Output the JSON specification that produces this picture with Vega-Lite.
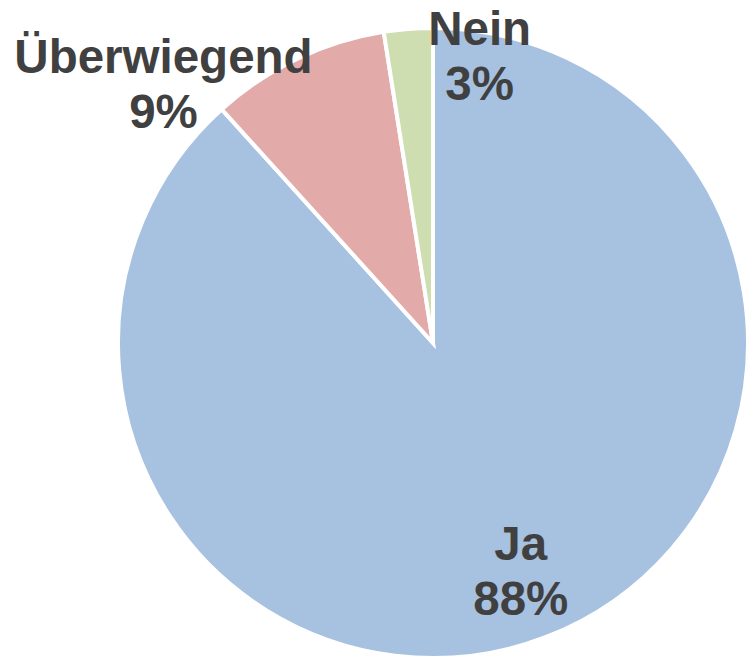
{
  "$schema": "https://vega.github.io/schema/vega-lite/v6.json",
  "width": 630,
  "height": 630,
  "autosize": {"type": "none"},
  "padding": {"left": 118, "top": 28, "right": 0, "bottom": 0},
  "background": "white",
  "config": {"view": {"stroke": null}},
  "data": {
    "values": [
      {"category": "Ja", "share": 0.883},
      {"category": "Überwiegend", "share": 0.092},
      {"category": "Nein", "share": 0.025}
    ]
  },
  "transform": [
    {"calculate": "datum.category + '\\n' + format(datum.share, '.0%')", "as": "label"}
  ],
  "encoding": {
    "theta": {"field": "share", "type": "quantitative", "stack": true},
    "order": {"field": "share", "type": "quantitative", "sort": "descending"}
  },
  "layer": [
    {
      "mark": {"type": "arc", "stroke": "white", "strokeWidth": 4},
      "encoding": {
        "color": {
          "field": "category",
          "type": "nominal",
          "scale": {"domain": ["Ja", "Überwiegend", "Nein"], "range": ["#a7c1e1", "#e2aba9", "#cedeb0"]},
          "legend": null
        }
      }
    },
    {
      "mark": {"type": "text", "radius": 247, "dx": -1, "dy": -28, "font": "Liberation Sans", "fontWeight": "bold", "fontSize": 47.5, "fill": "#404040", "lineBreak": "\n", "lineHeight": 55, "align": "center", "baseline": "middle"},
      "encoding": {"text": {"condition": {"test": "datum.category === 'Ja'", "field": "label"}, "value": ""}}
    },
    {
      "mark": {"type": "text", "radius": 284, "dx": -147, "dy": -28, "font": "Liberation Sans", "fontWeight": "bold", "fontSize": 47.5, "fill": "#404040", "lineBreak": "\n", "lineHeight": 55, "align": "center", "baseline": "middle"},
      "encoding": {"text": {"condition": {"test": "datum.category === 'Überwiegend'", "field": "label"}, "value": ""}}
    },
    {
      "mark": {"type": "text", "radius": 285, "dx": 69, "dy": -28, "font": "Liberation Sans", "fontWeight": "bold", "fontSize": 47.5, "fill": "#404040", "lineBreak": "\n", "lineHeight": 55, "align": "center", "baseline": "middle"},
      "encoding": {"text": {"condition": {"test": "datum.category === 'Nein'", "field": "label"}, "value": ""}}
    }
  ]
}
